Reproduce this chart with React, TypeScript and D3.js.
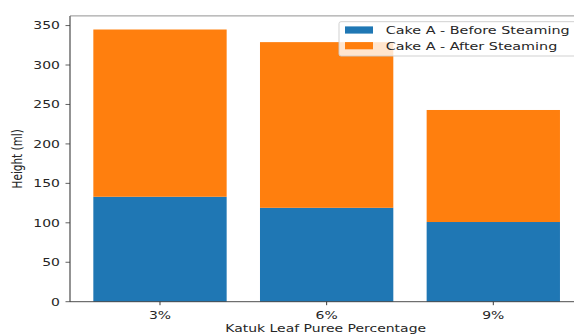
import React, { useEffect, useRef } from "react";
import * as d3 from "d3";

const categories = ["3%", "6%", "9%"];
const beforeSteaming = [133, 119, 101];
const afterSteaming = [212, 210, 142];
const yTicks = [0, 50, 100, 150, 200, 250, 300, 350];
const seriesNames = ["Cake A - Before Steaming", "Cake A - After Steaming"];
const seriesColors = ["#1f77b4", "#ff7f0e"];

export default function App() {
  const ref = useRef<SVGSVGElement>(null);

  useEffect(() => {
    const width = 574;
    const height = 334;
    // the picture looks stretched sideways, so text is widened too
    const sx = 1.33;
    const fs = 10.5;
    const font = "DejaVu Sans, sans-serif";
    const left = 70;
    const right = 583.3;
    const top = 15.9;
    const bottom = 301.7;

    const svg = d3.select(ref.current);
    svg.selectAll("*").remove();
    svg.attr("width", width).attr("height", height);

    const rows = categories.map((c, i) => ({
      cat: c,
      before: beforeSteaming[i],
      after: afterSteaming[i],
    }));
    const stacked = d3.stack<any>().keys(["before", "after"])(rows);

    const maxTotal = d3.max(rows, (d) => d.before + d.after) as number;

    const x = d3
      .scaleBand()
      .domain(categories)
      .range([left, right])
      .paddingInner(0.2)
      .paddingOuter(0.14);

    const y = d3
      .scaleLinear()
      .domain([0, maxTotal * 1.05])
      .range([bottom, top]);

    const label = (
      g: any,
      tx: number,
      ty: number,
      txt: string,
      anchor: string,
      rotate = false,
      size = fs
    ) =>
      g
        .append("text")
        .attr(
          "transform",
          `translate(${tx},${ty}) scale(${sx},1)${rotate ? " rotate(-90)" : ""}`
        )
        .attr("font-family", font)
        .attr("font-size", size)
        .attr("fill", "#262626")
        .attr("text-anchor", anchor)
        .text(txt);

    // bars
    stacked.forEach((layer, si) => {
      svg
        .append("g")
        .selectAll("rect")
        .data(layer)
        .enter()
        .append("rect")
        .attr("x", (d: any) => x(d.data.cat) as number)
        .attr("width", x.bandwidth())
        .attr("y", (d: any) => y(d[1]))
        .attr("height", (d: any) => y(d[0]) - y(d[1]))
        .attr("fill", seriesColors[si]);
    });

    // spines (right one falls outside the crop)
    const spines = svg.append("g").attr("stroke", "#3a3a3a").attr("fill", "none");
    spines.append("line").attr("x1", left).attr("x2", left).attr("y1", top).attr("y2", bottom).attr("stroke-width", 1.1);
    spines.append("line").attr("x1", left).attr("x2", right).attr("y1", top).attr("y2", top).attr("stroke-width", 0.8).attr("stroke", "#777");
    spines.append("line").attr("x1", left).attr("x2", right).attr("y1", bottom).attr("y2", bottom).attr("stroke-width", 0.9);

    // y axis
    const yAxis = svg.append("g");
    yTicks.forEach((t) => {
      yAxis
        .append("line")
        .attr("x1", left - 4.5)
        .attr("x2", left)
        .attr("y1", y(t))
        .attr("y2", y(t))
        .attr("stroke", "#3a3a3a")
        .attr("stroke-width", 0.8);
      label(yAxis, left - 10, y(t) + 3.8, String(t), "end");
    });

    // x axis
    const xAxis = svg.append("g");
    categories.forEach((c) => {
      const cx = (x(c) as number) + x.bandwidth() / 2;
      xAxis
        .append("line")
        .attr("x1", cx)
        .attr("x2", cx)
        .attr("y1", bottom)
        .attr("y2", bottom + 3.5)
        .attr("stroke", "#3a3a3a")
        .attr("stroke-width", 1);
      label(xAxis, cx, 319.4, c, "middle");
    });

    label(svg, (left + right) / 2 - 1, 332, "Katuk Leaf Puree Percentage", "middle");
    label(svg, 22, (top + bottom) / 2, "Height (ml)", "middle", true);

    // legend
    const lg = svg.append("g");
    lg.append("rect")
      .attr("x", 339)
      .attr("y", 21.7)
      .attr("width", 240)
      .attr("height", 34.3)
      .attr("rx", 2)
      .attr("fill", "white")
      .attr("fill-opacity", 0.8)
      .attr("stroke", "#cccccc")
      .attr("stroke-width", 0.9);
    seriesNames.forEach((name, i) => {
      const cy = 30 + i * 15.7;
      lg.append("rect")
        .attr("x", 345)
        .attr("y", cy - 3.6)
        .attr("width", 28)
        .attr("height", 7.2)
        .attr("fill", seriesColors[i]);
      label(lg, 385.7, cy + 4.2, name, "start", false, 10.8);
    });
  }, []);

  return (
    <svg
      ref={ref}
      style={{ position: "absolute", left: 0, top: 0, background: "white" }}
    />
  );
}
